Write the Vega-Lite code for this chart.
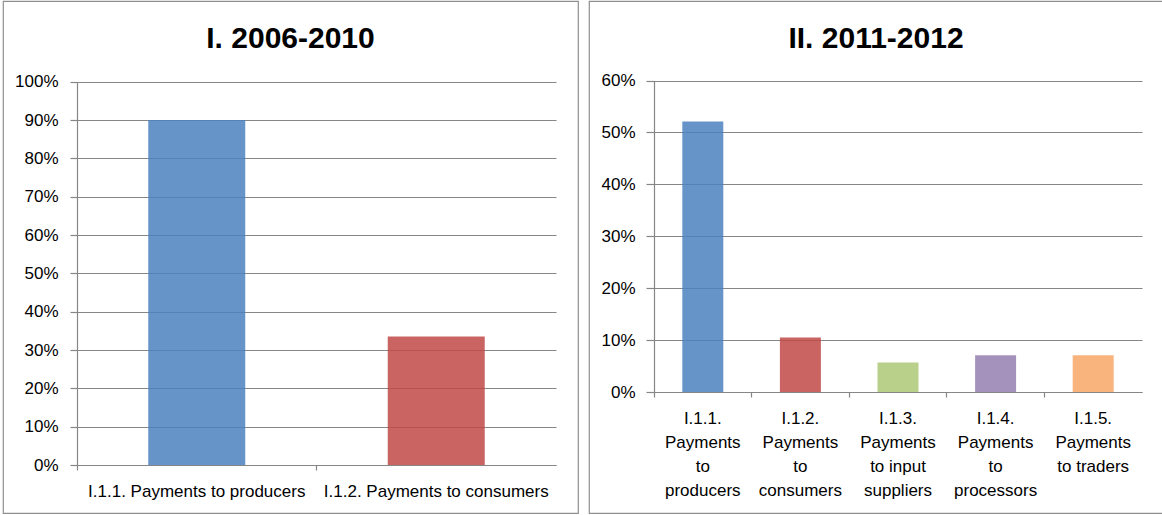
{
  "$schema": "https://vega.github.io/schema/vega-lite/v6.json",
  "padding": {"left": 2, "top": 0, "right": 0, "bottom": 0},
  "spacing": 9,
  "background": "white",
  "resolve": {"scale": {"color": "independent", "x": "independent", "y": "independent"}},
  "config": {
    "view": {"stroke": "#8f8f8f", "strokeWidth": 1.2},
    "font": "Liberation Sans",
    "axis": {
      "domainColor": "#868686",
      "domainWidth": 1.2,
      "tickColor": "#868686",
      "tickWidth": 1.2,
      "gridColor": "#868686",
      "gridWidth": 1.2,
      "gridOpacity": 1,
      "labelColor": "#000000",
      "labelFont": "Liberation Sans",
      "labelFontSize": 17,
      "labelLimit": 0
    },
    "title": {"font": "Liberation Sans", "fontSize": 30, "fontWeight": "bold", "color": "#000000"}
  },
  "datasets": {
    "p1": [
      {"category": "I.1.1. Payments to producers", "value": 0.90},
      {"category": "I.1.2. Payments to consumers", "value": 0.335}
    ],
    "p2": [
      {"category": "I.1.1.|Payments|to|producers", "value": 0.521},
      {"category": "I.1.2.|Payments|to|consumers", "value": 0.105},
      {"category": "I.1.3.|Payments|to input|suppliers", "value": 0.057},
      {"category": "I.1.4.|Payments|to|processors", "value": 0.071},
      {"category": "I.1.5.|Payments|to traders", "value": 0.071}
    ]
  },
  "hconcat": [
    {
      "width": 575,
      "height": 512,
      "title": {"text": "I. 2006-2010", "anchor": "middle", "frame": "group", "baseline": "alphabetic", "offset": 0, "dy": 77},
      "data": {"name": "p1"},
      "mark": {"type": "bar", "width": {"band": 0.405}, "opacity": 0.85},
      "encoding": {
        "x": {
          "field": "category", "type": "nominal", "sort": null,
          "scale": {"range": [74, 553], "paddingInner": 0, "paddingOuter": 0},
          "axis": {"title": null, "offset": -48, "labelAngle": 0, "bandPosition": 0, "tickSize": 5, "labelBaseline": "top", "labelPadding": 13, "grid": false}
        },
        "y": {
          "field": "value", "type": "quantitative",
          "scale": {"domain": [0, 1], "range": [464, 80.7], "nice": false, "zero": true},
          "axis": {"title": null, "offset": -74, "values": [0, 0.1, 0.2, 0.3, 0.4, 0.5, 0.6, 0.7, 0.8, 0.9, 1], "format": ".0%", "grid": true, "tickSize": 7, "labelPadding": 12}
        },
        "color": {
          "field": "category", "type": "nominal",
          "scale": {"domain": ["I.1.1. Payments to producers", "I.1.2. Payments to consumers"], "range": ["#4C81BE", "#C04946"]},
          "legend": null
        }
      }
    },
    {
      "width": 574,
      "height": 512,
      "title": {"text": "II. 2011-2012", "anchor": "middle", "frame": "group", "baseline": "alphabetic", "offset": 0, "dy": 77},
      "data": {"name": "p2"},
      "mark": {"type": "bar", "width": {"band": 0.42}, "opacity": 0.85},
      "encoding": {
        "x": {
          "field": "category", "type": "nominal", "sort": null,
          "scale": {"range": [65, 553], "paddingInner": 0, "paddingOuter": 0},
          "axis": {"title": null, "offset": -121, "labelAngle": 0, "bandPosition": 0, "tickSize": 5, "labelBaseline": "top", "labelPadding": 13, "labelLineHeight": 24, "labelExpr": "split(datum.label, '|')", "grid": false}
        },
        "y": {
          "field": "value", "type": "quantitative",
          "scale": {"domain": [0, 0.6], "range": [391, 79.5], "nice": false, "zero": true},
          "axis": {"title": null, "offset": -65, "values": [0, 0.1, 0.2, 0.3, 0.4, 0.5, 0.6], "format": ".0%", "grid": true, "tickSize": 8, "labelPadding": 11}
        },
        "color": {
          "field": "category", "type": "nominal",
          "scale": {"domain": ["I.1.1.|Payments|to|producers", "I.1.2.|Payments|to|consumers", "I.1.3.|Payments|to input|suppliers", "I.1.4.|Payments|to|processors", "I.1.5.|Payments|to traders"], "range": ["#4C81BE", "#C04946", "#ABC875", "#947FB1", "#F8A767"]},
          "legend": null
        }
      }
    }
  ]
}
